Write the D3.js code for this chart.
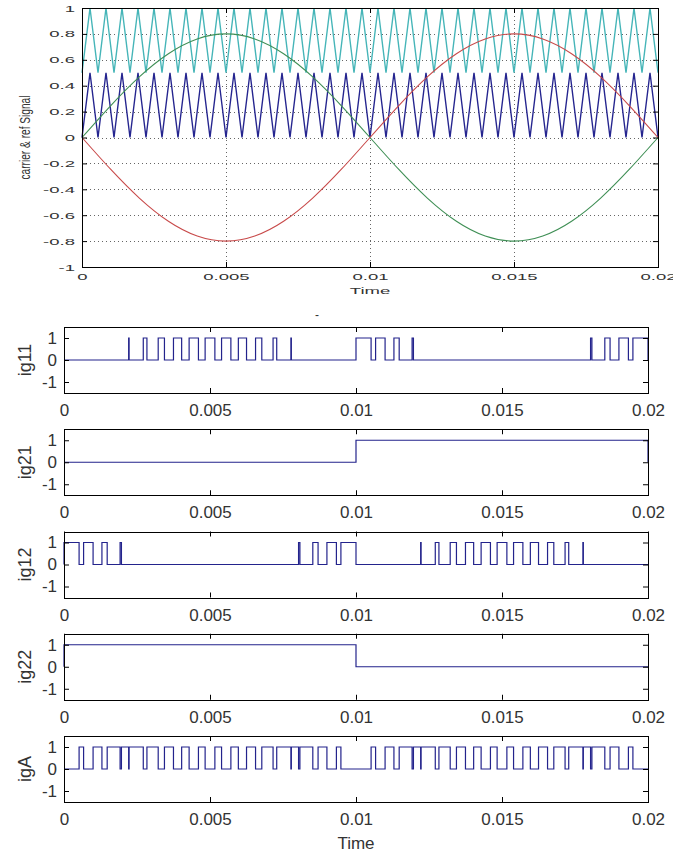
<!DOCTYPE html>
<html>
<head>
<meta charset="utf-8">
<title>carrier, reference and gate signals</title>
<script src="https://d3js.org/d3.v7.min.js"></script>
<style>
  body { margin: 0; background: #fff; }
  svg text { font-family: "Liberation Sans", Arial, sans-serif; }
</style>
</head>
<body>
<svg id="chart" width="697" height="856"></svg>
<script>

// ---- shared time axis (s)
var timeTicks  = [0, 0.005, 0.01, 0.015, 0.02];
var timeLabels = ["0", "0.005", "0.01", "0.015", "0.02"];

// ---- top plot: carriers and references
var sigTicks  = [-1, -0.8, -0.6, -0.4, -0.2, 0, 0.2, 0.4, 0.6, 0.8, 1];
var sigLabels = ["-1", "-0.8", "-0.6", "-0.4", "-0.2", "0", "0.2", "0.4", "0.6", "0.8", "1"];

var refTimes = [0, 0.001, 0.002, 0.003, 0.004, 0.005, 0.006, 0.007, 0.008, 0.009, 0.010,
                0.011, 0.012, 0.013, 0.014, 0.015, 0.016, 0.017, 0.018, 0.019, 0.020];
var refGreen = [0, 0.247, 0.470, 0.647, 0.761, 0.800, 0.761, 0.647, 0.470, 0.247, 0,
                -0.247, -0.470, -0.647, -0.761, -0.800, -0.761, -0.647, -0.470, -0.247, 0];
var refRed   = [0, -0.247, -0.470, -0.647, -0.761, -0.800, -0.761, -0.647, -0.470, -0.247, 0,
                0.247, 0.470, 0.647, 0.761, 0.800, 0.761, 0.647, 0.470, 0.247, 0];

// triangle carrier vertices, evenly spaced over 0..0.02 s (36 periods)
var carrierUpper = [0.5,1,0.5,1,0.5,1,0.5,1,0.5,1,0.5,1,0.5,1,0.5,1,0.5,1,0.5,1,0.5,1,0.5,1,
                    0.5,1,0.5,1,0.5,1,0.5,1,0.5,1,0.5,1,0.5,1,0.5,1,0.5,1,0.5,1,0.5,1,0.5,1,
                    0.5,1,0.5,1,0.5,1,0.5,1,0.5,1,0.5,1,0.5,1,0.5,1,0.5,1,0.5,1,0.5,1,0.5,1,0.5];
var carrierLower = [0,0.5,0,0.5,0,0.5,0,0.5,0,0.5,0,0.5,0,0.5,0,0.5,0,0.5,0,0.5,0,0.5,0,0.5,
                    0,0.5,0,0.5,0,0.5,0,0.5,0,0.5,0,0.5,0,0.5,0,0.5,0,0.5,0,0.5,0,0.5,0,0.5,
                    0,0.5,0,0.5,0,0.5,0,0.5,0,0.5,0,0.5,0,0.5,0,0.5,0,0.5,0,0.5,0,0.5,0,0.5,0];

// ---- gate plots: [rise, fall] times of each high pulse
var gateTicks  = [-1, 0, 1];
var gateLabels = ["-1", "0", "1"];
var gateNames  = ["ig11", "ig21", "ig12", "ig22", "igA"];

var ig11 = [[0.002214,0.002230],[0.002715,0.002840],[0.003226,0.003440],[0.003749,0.004029],
            [0.004285,0.004604],[0.004833,0.005167],[0.005396,0.005715],[0.005971,0.006251],
            [0.006560,0.006774],[0.007160,0.007285],[0.007770,0.007786],
            [0.010000,0.010517],[0.010671,0.010996],[0.011299,0.011479],[0.011921,0.011967],
            [0.018033,0.018079],[0.018521,0.018701],[0.019004,0.019329],[0.019483,0.020000]];
var ig21 = [[0.010000,0.020000]];
var ig12 = [[0.000000,0.000517],[0.000671,0.000996],[0.001299,0.001479],[0.001921,0.001967],
            [0.008033,0.008079],[0.008521,0.008701],[0.009004,0.009329],[0.009483,0.010000],
            [0.012214,0.012230],[0.012715,0.012840],[0.013226,0.013440],[0.013749,0.014029],
            [0.014285,0.014604],[0.014833,0.015167],[0.015396,0.015715],[0.015971,0.016251],
            [0.016560,0.016774],[0.017160,0.017285],[0.017770,0.017786]];
var ig22 = [[0.000000,0.010000]];
var igA  = [[0.000517,0.000671],[0.000996,0.001299],[0.001479,0.001921],[0.001967,0.002214],
            [0.002230,0.002715],[0.002840,0.003226],[0.003440,0.003749],[0.004029,0.004285],
            [0.004604,0.004833],[0.005167,0.005396],[0.005715,0.005971],[0.006251,0.006560],
            [0.006774,0.007160],[0.007285,0.007770],[0.007786,0.008033],[0.008079,0.008521],
            [0.008701,0.009004],[0.009329,0.009483],[0.010517,0.010671],[0.010996,0.011299],
            [0.011479,0.011921],[0.011967,0.012214],[0.012230,0.012715],[0.012840,0.013226],
            [0.013440,0.013749],[0.014029,0.014285],[0.014604,0.014833],[0.015167,0.015396],
            [0.015715,0.015971],[0.016251,0.016560],[0.016774,0.017160],[0.017285,0.017770],
            [0.017786,0.018033],[0.018079,0.018521],[0.018701,0.019004],[0.019329,0.019483]];
var gateSeries = [ig11, ig21, ig12, ig22, igA];

var svg = d3.select("#chart");

/* ================= top plot ================= */
var tb = {l: 82, r: 658, t: 8, b: 267};
var stretch = 1.95;   // the top panel's lettering is drawn wide

svg.append("clipPath").attr("id", "topclip")
  .append("rect").attr("x", 0).attr("y", 0).attr("width", 673).attr("height", 300);

var g0 = svg.append("g").attr("clip-path", "url(#topclip)");

var x0 = d3.scaleLinear().domain([0, 0.02]).range([tb.l, tb.r]);
var y0 = d3.scaleLinear().domain([-1, 1]).range([tb.b, tb.t]);

// dotted grid
g0.selectAll(".hgrid").data(sigTicks.slice(1, -1)).enter().append("line")
  .attr("x1", tb.l).attr("x2", tb.r)
  .attr("y1", function(d) { return Math.round(y0(d)) + 0.5; })
  .attr("y2", function(d) { return Math.round(y0(d)) + 0.5; })
  .style("stroke", "#666").style("stroke-dasharray", "1,3");
g0.selectAll(".vgrid").data(timeTicks.slice(1, -1)).enter().append("line")
  .attr("y1", tb.t).attr("y2", tb.b)
  .attr("x1", function(d) { return Math.round(x0(d)) + 0.5; })
  .attr("x2", function(d) { return Math.round(x0(d)) + 0.5; })
  .style("stroke", "#666").style("stroke-dasharray", "1,3");

// carriers: vertex index -> time
var vx = d3.scaleLinear().domain([0, carrierUpper.length - 1]).range([0, 0.02]);
var carrierLine = d3.line()
  .x(function(d, i) { return x0(vx(i)); })
  .y(function(d) { return y0(d); });

g0.append("path").attr("d", carrierLine(carrierUpper))
  .style("fill", "none").style("stroke", "#45b5b8").style("stroke-width", 1.4);
g0.append("path").attr("d", carrierLine(carrierLower))
  .style("fill", "none").style("stroke", "#25258f").style("stroke-width", 1.4);

var refLine = d3.line()
  .x(function(d, i) { return x0(refTimes[i]); })
  .y(function(d) { return y0(d); })
  .curve(d3.curveNatural);

g0.append("path").attr("d", refLine(refGreen))
  .style("fill", "none").style("stroke", "#3f8f55").style("stroke-width", 1.1);
g0.append("path").attr("d", refLine(refRed))
  .style("fill", "none").style("stroke", "#c84a4a").style("stroke-width", 1.1);

// axes (ticks point inward, MATLAB style)
function styleTop(sel, dx) {
  sel.select(".domain").remove();
  sel.selectAll(".tick line").style("stroke", "#000");
  sel.selectAll("text")
    .style("font-size", "9.5px").style("fill", "#333")
    .attr("transform", "scale(" + stretch + ",1)");
  if (dx != null) sel.selectAll("text").attr("x", dx / stretch);
}

g0.append("g").attr("transform", "translate(" + tb.l + ",0)")
  .call(d3.axisLeft(y0).tickValues(sigTicks)
    .tickFormat(function(d, i) { return sigLabels[i]; })
    .tickSize(-5).tickPadding(7))
  .call(function(s) { styleTop(s, -7); });
g0.append("g").attr("transform", "translate(" + tb.r + ",0)")
  .call(d3.axisRight(y0).tickValues(sigTicks).tickFormat("").tickSize(-5))
  .call(function(s) { styleTop(s); });
g0.append("g").attr("transform", "translate(0," + tb.b + ")")
  .call(d3.axisBottom(x0).tickValues(timeTicks)
    .tickFormat(function(d, i) { return timeLabels[i]; })
    .tickSize(-5).tickPadding(6))
  .call(function(s) { styleTop(s); });
g0.append("g").attr("transform", "translate(0," + tb.t + ")")
  .call(d3.axisTop(x0).tickValues(timeTicks).tickFormat("").tickSize(-5))
  .call(function(s) { styleTop(s); });

g0.append("rect")
  .attr("x", tb.l + 0.5).attr("y", tb.t + 0.5)
  .attr("width", tb.r - tb.l).attr("height", tb.b - tb.t)
  .style("fill", "none").style("stroke", "#000");

g0.append("text")
  .attr("transform", "translate(370,294) scale(" + stretch + ",1)")
  .attr("text-anchor", "middle")
  .style("font-size", "9.5px").style("fill", "#333")
  .text("Time");

g0.append("text")
  .attr("transform", "translate(30," + ((tb.t + tb.b) / 2) + ") rotate(-90) scale(1,1.4)")
  .attr("text-anchor", "middle")
  .attr("textLength", 84).attr("lengthAdjust", "spacingAndGlyphs")
  .style("font-size", "10px").style("fill", "#333")
  .text("carrier & ref Signal");

// stray title mark above the first gate panel
svg.append("text").attr("x", 317).attr("y", 319).attr("text-anchor", "middle")
  .style("font-size", "12px").style("fill", "#333").text("-");

/* ================= gate plots ================= */
var xg = d3.scaleLinear().domain([0, 0.02]).range([64, 648]);

function stepPoints(highs) {
  var pts = [[0, 0]];
  highs.forEach(function(h) {
    pts.push([h[0], 0], [h[0], 1], [h[1], 1], [h[1], 0]);
  });
  pts.push([0.02, 0]);
  return pts;
}

gateSeries.forEach(function(highs, i) {
  var top = 327 + i * 102.25, bot = top + 66;
  var yg = d3.scaleLinear().domain([-1.5, 1.5]).range([bot, top]);
  var g = svg.append("g");

  var line = d3.line()
    .x(function(d) { return xg(d[0]); })
    .y(function(d) { return yg(d[1]); });

  g.append("path").attr("d", line(stepPoints(highs)))
    .style("fill", "none").style("stroke", "#23238c").style("stroke-width", 1.2);

  function styleGate(sel) {
    sel.select(".domain").remove();
    sel.selectAll(".tick line").style("stroke", "#000");
    sel.selectAll("text").style("font-size", "17px").style("fill", "#333");
  }

  g.append("g").attr("transform", "translate(64,0)")
    .call(d3.axisLeft(yg).tickValues(gateTicks)
      .tickFormat(function(d, j) { return gateLabels[j]; })
      .tickSize(-5).tickPadding(7))
    .call(styleGate);
  g.append("g").attr("transform", "translate(648,0)")
    .call(d3.axisRight(yg).tickValues(gateTicks).tickFormat("").tickSize(-5))
    .call(styleGate);
  g.append("g").attr("transform", "translate(0," + bot + ")")
    .call(d3.axisBottom(xg).tickValues(timeTicks)
      .tickFormat(function(d, j) { return timeLabels[j]; })
      .tickSize(-5).tickPadding(11))
    .call(styleGate);
  g.append("g").attr("transform", "translate(0," + top + ")")
    .call(d3.axisTop(xg).tickValues(timeTicks).tickFormat("").tickSize(-5))
    .call(styleGate);

  g.append("rect")
    .attr("x", 64.5).attr("y", Math.round(top) + 0.5)
    .attr("width", 584).attr("height", 66)
    .style("fill", "none").style("stroke", "#000");

  g.append("text")
    .attr("transform", "translate(31," + (top + 33) + ") rotate(-90)")
    .attr("text-anchor", "middle")
    .style("font-size", "18px").style("fill", "#333")
    .text(gateNames[i]);
});

svg.append("text").attr("x", 356).attr("y", 849).attr("text-anchor", "middle")
  .style("font-size", "17px").style("fill", "#333").text("Time");

</script>
</body>
</html>
